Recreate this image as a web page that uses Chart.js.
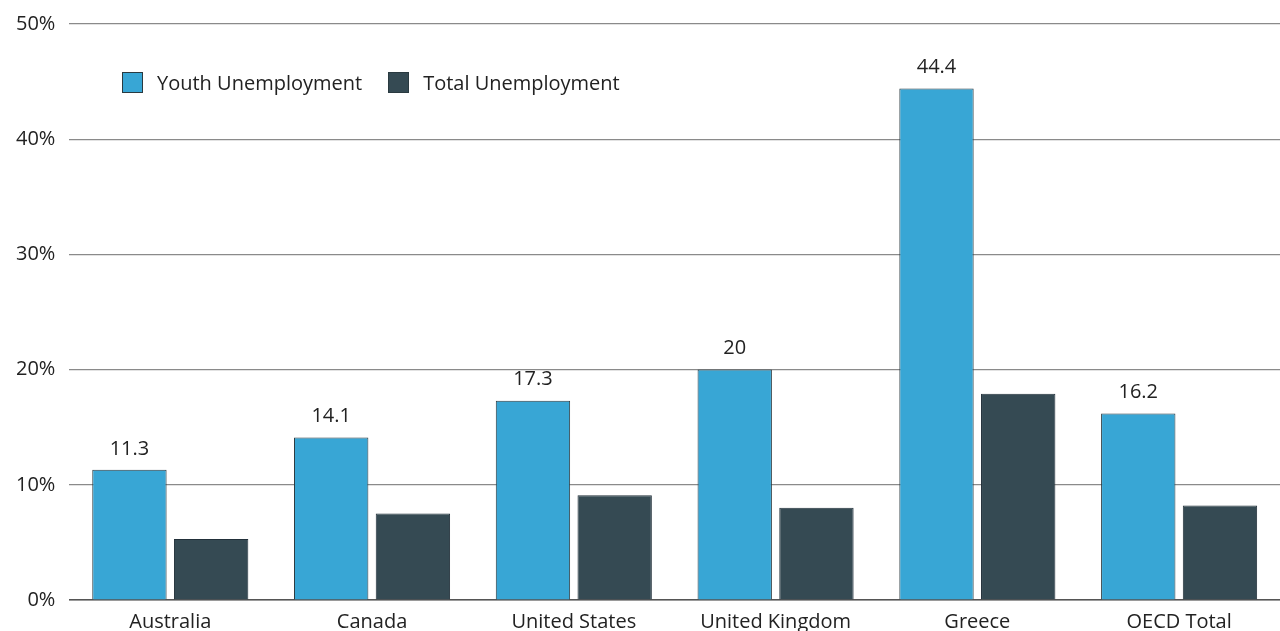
<!DOCTYPE html>
<html>
<head>
<meta charset="utf-8">
<script src="https://cdn.jsdelivr.net/npm/chart.js@4.4.1/dist/chart.umd.min.js"></script>
<style>
  html, body { margin: 0; padding: 0; background: #fff; }
  #wrap { position: relative; width: 1280px; height: 631px; }
  #legend { position: absolute; left: 122px; top: 69px; display: flex; align-items: center;
            font-family: "Open Sans", sans-serif; font-size: 20px; color: #222; }
  .item { display: flex; align-items: center; margin-right: 26px; }
  .sw { width: 21px; height: 21px; box-sizing: border-box; border: 1px solid #2a3a40; margin-right: 14px; }
</style>
</head>
<body>
<div id="wrap">
  <canvas id="c" width="1280" height="631"></canvas>
  <div id="legend"></div>
</div>
<script>
const categories = ["Australia", "Canada", "United States", "United Kingdom", "Greece", "OECD Total"];
const youthUnemployment = [11.3, 14.1, 17.3, 20, 44.4, 16.2];
const totalUnemployment = [5.3, 7.5, 9.1, 8.0, 17.9, 8.2];
const yTicks = [0, 10, 20, 30, 40, 50];
const seriesNames = ["Youth Unemployment", "Total Unemployment"];
const colors = ["#38a6d5", "#354a53"];

const FONT = "'Open Sans', sans-serif";

const valueLabels = {
  id: 'valueLabels',
  afterDatasetsDraw(chart) {
    const ctx = chart.ctx;
    const meta = chart.getDatasetMeta(0);
    ctx.save();
    ctx.font = "20px " + FONT;
    ctx.fillStyle = "#222";
    ctx.textAlign = "center";
    ctx.textBaseline = "bottom";
    meta.data.forEach((bar, i) => {
      ctx.fillText(String(youthUnemployment[i]), bar.x, bar.y - 11);
    });
    ctx.restore();
  }
};

new Chart(document.getElementById('c'), {
  type: 'bar',
  data: {
    labels: categories,
    datasets: [
      { label: seriesNames[0], data: youthUnemployment, backgroundColor: colors[0],
        borderColor: "#2b3a40", borderWidth: 1, borderSkipped: 'bottom',
        categoryPercentage: 0.81, barPercentage: 0.91 },
      { label: seriesNames[1], data: totalUnemployment, backgroundColor: colors[1],
        borderColor: "#22303a", borderWidth: 1, borderSkipped: 'bottom',
        categoryPercentage: 0.81, barPercentage: 0.91 }
    ]
  },
  options: {
    responsive: false,
    animation: false,
    devicePixelRatio: 1,
    layout: { padding: { top: 4, right: 0, left: 2, bottom: -13 } },
    plugins: { legend: { display: false }, tooltip: { enabled: false } },
    scales: {
      x: {
        grid: { display: false, drawTicks: false },
        border: { display: true, color: "#555", width: 1.5 },
        ticks: { color: "#222", font: { family: FONT, size: 20 }, padding: 10, maxRotation: 0 }
      },
      y: {
        min: 0, max: 50,
        afterBuildTicks(axis) { axis.ticks = yTicks.map(v => ({ value: v })); },
        grid: { color: "#8a8a8a", lineWidth: 1.2, drawTicks: false },
        border: { display: false },
        ticks: { color: "#222", font: { family: FONT, size: 20, lineHeight: 1.0 }, padding: 14,
                 callback: v => v + "%" }
      }
    }
  },
  plugins: [valueLabels]
});

const lg = document.getElementById('legend');
seriesNames.forEach((n, i) => {
  const it = document.createElement('div'); it.className = 'item';
  const sw = document.createElement('div'); sw.className = 'sw'; sw.style.background = colors[i];
  const tx = document.createElement('span'); tx.textContent = n;
  it.appendChild(sw); it.appendChild(tx); lg.appendChild(it);
});
</script>
</body>
</html>
